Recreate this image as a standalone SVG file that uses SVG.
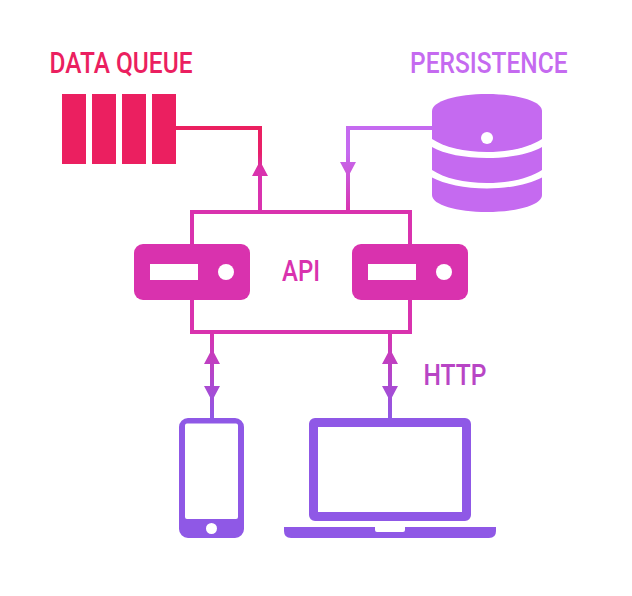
<svg xmlns="http://www.w3.org/2000/svg" width="632" height="596" viewBox="0 0 632 596">
<style>
text{font-family:"Roboto","Liberation Sans",sans-serif;font-size:29px;font-weight:500}
.c{fill:none;stroke-width:4}
.queue{fill:#EB1F60}.db{fill:#C56AF0}.srv{fill:#D932AE}.dev{fill:#8F58E6}.w{fill:#fff}
</style>
<defs>
<linearGradient id="g1" gradientUnits="userSpaceOnUse" x1="0" y1="128" x2="0" y2="212"><stop offset="0" stop-color="#EB1F60"/><stop offset=".3" stop-color="#E8206A"/><stop offset=".5" stop-color="#D932AE"/></linearGradient>
<linearGradient id="g2" gradientUnits="userSpaceOnUse" x1="0" y1="128" x2="0" y2="212"><stop offset="0" stop-color="#C56AF0"/><stop offset=".3" stop-color="#C56AF0"/><stop offset="1" stop-color="#D932AE"/></linearGradient>
<linearGradient id="g3" gradientUnits="userSpaceOnUse" x1="0" y1="332" x2="0" y2="418"><stop offset="0" stop-color="#D932AE"/><stop offset="1" stop-color="#8F58E6"/></linearGradient>
</defs>
<g id="connectors">
<rect x="192" y="212" width="218" height="120" class="c" stroke="#D932AE"/>
<path d="M176 128H260V212" class="c" stroke="url(#g1)"/>
<path d="M252 176L260 161L268 176Z" fill="url(#g1)"/>
<path d="M432 128H348V212" class="c" stroke="url(#g2)"/>
<path d="M340 162H356L348 177Z" fill="url(#g2)"/>
<path d="M212 332V418" class="c" stroke="url(#g3)"/>
<path d="M204 364L212 349L220 364Z" fill="url(#g3)"/>
<path d="M204 386H220L212 401Z" fill="url(#g3)"/>
<path d="M390 332V418" class="c" stroke="url(#g3)"/>
<path d="M382 364L390 349L398 364Z" fill="url(#g3)"/>
<path d="M382 386H398L390 401Z" fill="url(#g3)"/>
</g>
<g id="queue">
<rect class="queue" x="62" y="94" width="24" height="70"/>
<rect class="queue" x="92" y="94" width="24" height="70"/>
<rect class="queue" x="122" y="94" width="24" height="70"/>
<rect class="queue" x="152" y="94" width="24" height="70"/>
<text x="49.500" y="73" fill="#EB1F60" textLength="143" lengthAdjust="spacingAndGlyphs">DATA QUEUE</text>
</g>
<g id="persistence">
<path class="db" d="M432 111C432 101 457 94 487 94S542 101 542 111V139C530 147 510 152 487 152S444 147 432 139Z"/>
<path class="db" d="M432 147C444 154 465 158 487 158S530 154 542 147V170C530 178 510 183 487 183S444 178 432 170Z"/>
<path class="db" d="M432 177.500C444 184 465 188.500 487 188.500S530 184 542 177.500V195C542 205 517 212 487 212S432 205 432 195Z"/>
<circle class="w" cx="487" cy="138" r="6"/>
<text x="410" y="73" fill="#C56AF0" textLength="157.500" lengthAdjust="spacingAndGlyphs">PERSISTENCE</text>
</g>
<g id="api-left">
<rect class="srv" x="134" y="244" width="116" height="56" rx="9"/>
<rect class="w" x="150" y="264" width="48" height="16"/>
<circle class="w" cx="226" cy="272" r="8"/>
</g>
<g id="api-right">
<rect class="srv" x="352" y="244" width="116" height="56" rx="9"/>
<rect class="w" x="368" y="264" width="48" height="16"/>
<circle class="w" cx="444" cy="272" r="8"/>
</g>
<g id="api-label"><text x="282" y="281" fill="#D932AE" textLength="38" lengthAdjust="spacingAndGlyphs">API</text></g>
<g id="http-label"><text x="423.500" y="385" fill="#B845C5" textLength="63" lengthAdjust="spacingAndGlyphs">HTTP</text></g>
<g id="phone">
<path class="dev" fill-rule="evenodd" d="M188 418H235A9 9 0 0 1 244 427V529A9 9 0 0 1 235 538H188A9 9 0 0 1 179 529V427A9 9 0 0 1 188 418ZM187 423.500A2 2 0 0 0 185 425.500V517A2 2 0 0 0 187 519H236A2 2 0 0 0 238 517V425.500A2 2 0 0 0 236 423.500Z"/>
<circle class="w" cx="211.500" cy="528.500" r="5.500"/>
</g>
<g id="laptop">
<path class="dev" fill-rule="evenodd" d="M315 418H465A6 6 0 0 1 471 424V515A6 6 0 0 1 465 521H315A6 6 0 0 1 309 515V424A6 6 0 0 1 315 418ZM318 427V512H462V427Z"/>
<path class="dev" d="M284 527H375V530Q375 532 377 532H403Q405 532 405 530V527H496V531Q496 538 489 538H291Q284 538 284 531Z"/>
</g>
</svg>
